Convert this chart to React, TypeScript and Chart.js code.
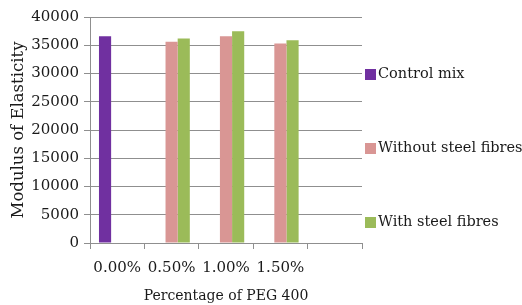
import React, { useEffect, useRef } from "react";
import { Chart, registerables } from "chart.js";

Chart.register(...registerables);

const categories = ["0.00%", "0.50%", "1.00%", "1.50%", ""];
const controlMix = [36600, null, null, null, null];
const withoutSteelFibres = [null, 35600, 36600, 35300, null];
const withSteelFibres = [null, 36200, 37500, 35900, null];
const yTicks = { min: 0, max: 40000, step: 5000 };
const seriesNames = ["Control mix", "Without steel fibres", "With steel fibres"];
const seriesColors = ["#7030A0", "#D99694", "#9BBB59"];

const FONT = '"DejaVu Serif", "Liberation Serif", serif';
const TEXT = "#1a1a1a";

const sideLegend = {
  id: "sideLegend",
  afterDraw(chart: any) {
    const { ctx, chartArea } = chart;
    ctx.save();
    ctx.font = `14.5px ${FONT}`;
    ctx.textBaseline = "middle";
    ctx.textAlign = "left";
    chart.data.datasets.forEach((ds: any, i: number) => {
      const y = chartArea.top + 57.5 + i * 74;
      const x = chartArea.right + 3;
      ctx.fillStyle = ds.backgroundColor;
      ctx.fillRect(x, y - 5.5, 11, 11);
      ctx.fillStyle = TEXT;
      ctx.fillText(ds.label, x + 13, y);
    });
    ctx.restore();
  },
};

export default function App() {
  const ref = useRef<HTMLCanvasElement | null>(null);
  useEffect(() => {
    if (!ref.current) return;
    const chart = new Chart(ref.current, {
      type: "bar",
      data: {
        labels: categories,
        datasets: [
          { label: seriesNames[0], data: controlMix, backgroundColor: seriesColors[0] },
          { label: seriesNames[1], data: withoutSteelFibres, backgroundColor: seriesColors[1] },
          { label: seriesNames[2], data: withSteelFibres, backgroundColor: seriesColors[2] },
        ],
      },
      options: {
        responsive: false,
        animation: false,
        devicePixelRatio: 1,
        layout: { padding: { left: 0, right: 160, top: 17, bottom: 0 } },
        datasets: { bar: { categoryPercentage: 0.67, barPercentage: 1, borderWidth: 0 } },
        plugins: { legend: { display: false }, tooltip: { enabled: false } },
        scales: {
          x: {
            type: "category",
            offset: true,
            grid: {
              offset: true,
              drawOnChartArea: false,
              drawTicks: true,
              tickLength: 6,
              color: "#8f8f8f",
            },
            border: { display: true, color: "#8f8f8f" },
            ticks: {
              font: { family: FONT, size: 15 },
              color: TEXT,
              padding: 10,
              maxRotation: 0,
              autoSkip: false,
            },
            title: {
              display: true,
              text: "Percentage of PEG 400",
              font: { family: FONT, size: 14 },
              color: TEXT,
              padding: { top: 1, bottom: 0 },
            },
            afterFit: (s: any) => {
              s.height = 62;
            },
          },
          y: {
            min: yTicks.min,
            max: yTicks.max,
            ticks: {
              stepSize: yTicks.step,
              font: { family: FONT, size: 15 },
              color: TEXT,
              padding: 5,
              callback: (v: any) => String(v),
            },
            grid: { color: "#8f8f8f", tickLength: 6, drawTicks: true },
            border: { display: true, color: "#8f8f8f" },
            title: {
              display: true,
              text: "Modulus of Elasticity",
              font: { family: FONT, size: 16.5 },
              color: TEXT,
              padding: { top: 9, bottom: 0 },
            },
            afterFit: (s: any) => {
              s.width = 90;
            },
          },
        },
      },
      plugins: [sideLegend],
    });
    return () => chart.destroy();
  }, []);
  return (
    <div style={{ position: "fixed", left: 0, top: 0, width: 522, height: 305, background: "#fff" }}>
      <canvas ref={ref} width={522} height={305} />
    </div>
  );
}
